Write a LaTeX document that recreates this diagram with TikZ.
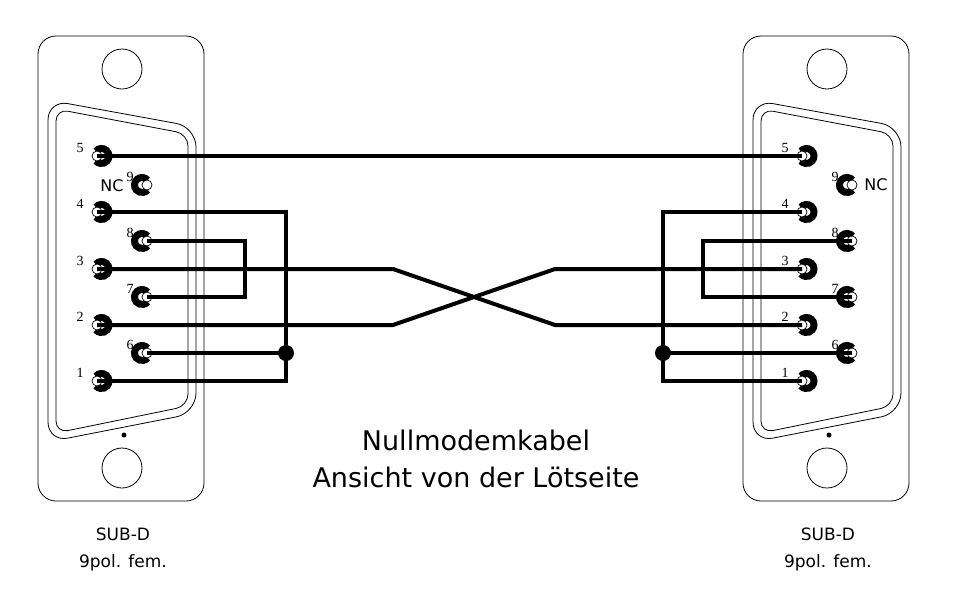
\documentclass[tikz,border=0pt]{standalone}
\usepackage{fontspec}
\newfontfamily\labelfont{DejaVu Sans}
\newfontfamily\numfont{Liberation Serif}
\begin{document}
\begin{tikzpicture}[x=1pt, y=-1pt, line join=miter,
    wire/.style={line width=4pt},
    housing/.style={line width=0.8pt},
    pinnum/.style={font=\numfont\fontsize{14}{14}\selectfont, anchor=base, inner sep=0pt},
    sublabel/.style={font=\labelfont\fontsize{17}{17}\selectfont, anchor=base, inner sep=0pt},
    nclabel/.style={font=\labelfont\fontsize{16}{16}\selectfont, inner sep=0pt},
    titlelabel/.style={font=\labelfont\fontsize{27}{27}\selectfont, anchor=base, inner sep=0pt}]
\useasboundingbox (0,0) rectangle (956,600);
% both SUB-D connectors, seen from the solder side
\foreach \s/\dx in {L/0,R/705}{
  \begin{scope}[shift={(\dx,0)}]
    \draw[housing, rounded corners=18pt] (38,36) rectangle (204,501);
    \draw[housing] (122,69) circle[radius=20pt] (122,468) circle[radius=20pt];
    \fill (124,435) circle[radius=2.5pt];
    \draw[housing, rounded corners=20pt] (48,100) -- (196,127) -- (196,413) -- (48,442) -- cycle;
    \draw[housing, rounded corners=12pt] (56,109) -- (188,134) -- (188,406) -- (56,433) -- cycle;
    % pins 1 to 5
    \foreach \n/\y in {5/156,4/212,3/269,2/325,1/381}{
      \coordinate (\s\n) at (97,\y);
      \draw[line width=7pt] ([shift={(4.5,0)}]\s\n) ++(140:7.5pt) arc[start angle=140, end angle=-140, radius=7.5pt];
      \draw[fill=white, line width=0.7pt] (\s\n) circle[radius=5pt];
      \node[pinnum] (\s-num\n) at (80,\y-4) {\n};
    }
    % pins 6 to 9
    \foreach \n/\y in {9/185,8/241,7/297,6/353}{
      \coordinate (\s\n) at (147,\y);
      \draw[line width=7pt] ([shift={(-5,0)}]\s\n) ++(40:7.5pt) arc[start angle=40, end angle=320, radius=7.5pt];
      \draw[fill=white, line width=0.7pt] (\s\n) circle[radius=5pt];
      \node[pinnum] (\s-num\n) at (130,\y-4) {\n};
    }
    \node[sublabel] (\s-sub) at (123,540) {SUB-D};
    \node[sublabel] (\s-pol) at (123,567) {9pol. fem.};
  \end{scope}
}
\node[nclabel] (ncL) at (112,186) {NC};
\node[nclabel] (ncR) at (876,185) {NC};
% wiring
\coordinate (jL) at (286,353);
\coordinate (jR) at (663,353);
\coordinate (bL) at (245,269);
\coordinate (bR) at (703,269);
\coordinate (xL3) at (393,269);
\coordinate (xL2) at (393,325);
\coordinate (xR3) at (555,269);
\coordinate (xR2) at (555,325);
\draw[wire] (L5) -- (R5);
\draw[wire] (L4) -| (jL) |- (L1);
\draw[wire] (L6) -- (jL);
\draw[wire] (L8) -| (bL) |- (L7);
\draw[wire] (R4) -| (jR) |- (R1);
\draw[wire] (R6) -- (jR);
\draw[wire] (R8) -| (bR) |- (R7);
\draw[wire] (L3) -- (xL3) -- (xR2) -- (R2);
\draw[wire] (L2) -- (xL2) -- (xR3) -- (R3);
\fill (jL) circle[radius=8pt] (jR) circle[radius=8pt];
\node[titlelabel] (title1) at (476,450) {Nullmodemkabel};
\node[titlelabel] (title2) at (476,487) {Ansicht von der Lötseite};
\end{tikzpicture}
\end{document}
